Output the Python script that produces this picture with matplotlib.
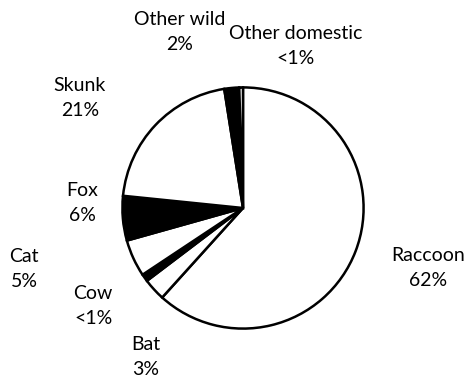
import matplotlib.pyplot as plt

# pie data (clockwise from 12 o'clock)
animals = ["Raccoon", "Bat", "Cow", "Cat", "Fox", "Skunk", "Other wild", "Other domestic"]
shares = [62, 3, 1, 5, 6, 21, 2, 0.5]
pct_text = ["62%", "3%", "<1%", "5%", "6%", "21%", "2%", "<1%"]
fills = ["white", "white", "black", "white", "black", "white", "black", "white"]

# label centres in pixels (x, y from top)
label_pos = [(428, 268), (146, 357), (93, 306), (24, 269),
             (82, 203), (80, 98), (180, 32), (296, 46)]

W, H = 477, 382
fig = plt.figure(figsize=(W / 100, H / 100), dpi=100)
fig.patch.set_facecolor("white")

cx, cy, r = 243, 208, 123
ax = fig.add_axes([(cx - r) / W, (H - cy - r) / H, 2 * r / W, 2 * r / H])
wedges, _ = ax.pie(shares, colors=fills, startangle=90, counterclock=False,
                   wedgeprops=dict(edgecolor="black", linewidth=1.8))
ax.set_xlim(-1.02, 1.02)
ax.set_ylim(-1.02, 1.02)
ax.axis("off")

for name, pct, (x, y) in zip(animals, pct_text, label_pos):
    fig.text(x / W, 1 - y / H, name + "\n" + pct, ha="center", va="center",
             fontsize=14, family=["Lato", "DejaVu Sans"], fontweight="normal",
             linespacing=1.6, color="black")

fig.savefig("out.png", dpi=100, facecolor="white")
